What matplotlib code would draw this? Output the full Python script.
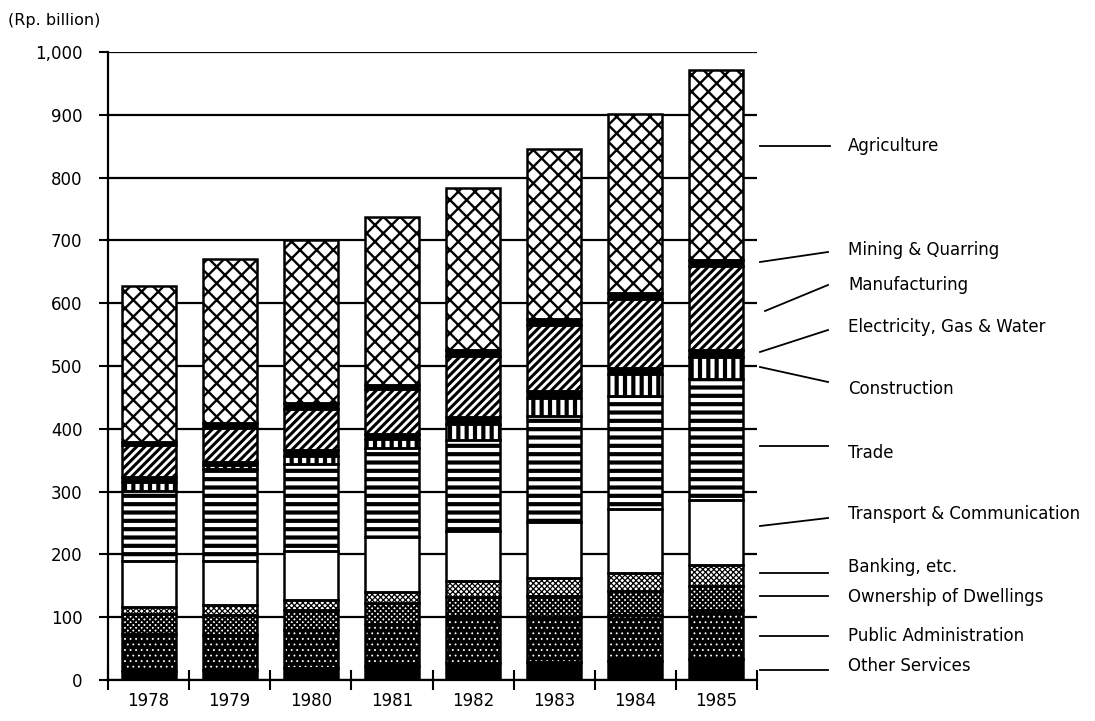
import numpy as np
import matplotlib
matplotlib.use("Agg")
import matplotlib.pyplot as plt
from matplotlib.lines import Line2D

years = ["1978", "1979", "1980", "1981", "1982", "1983", "1984", "1985"]

# sector values (Rp. billion), stacked bottom -> top
other_services = [14, 16, 19, 22, 27, 28, 30, 34]
public_admin = [59, 56, 60, 67, 75, 72, 73, 78]
ownership_dwellings = [32, 32, 32, 33, 30, 34, 39, 38]
banking = [12, 15, 16, 18, 25, 28, 29, 33]
transport_comm = [72, 70, 79, 88, 80, 89, 102, 103]
trade = [112, 147, 138, 142, 145, 170, 179, 193]
construction = [14, 6, 12, 14, 25, 28, 35, 36]
electricity = [8, 5, 11, 8, 11, 11, 10, 11]
manufacturing = [51, 55, 65, 71, 98, 106, 110, 134]
mining = [5, 8, 9, 7, 9, 9, 10, 9]
agriculture = [249, 261, 259, 267, 259, 270, 285, 303]

yticks = [0, 100, 200, 300, 400, 500, 600, 700, 800, 900, 1000]
ytick_labels = ["0", "100", "200", "300", "400", "500", "600", "700", "800", "900", "1,000"]

# (values, face colour, hatch, hatch colour, hatch linewidth)
segments = [
    (other_services, "black", None, "black", 1.0),
    (public_admin, "black", "...", "white", 0.6),
    (ownership_dwellings, "white", "xxxxxx", "black", 1.5),
    (banking, "white", "xxxxxx", "black", 0.9),
    (transport_comm, "white", None, "black", 1.0),
    (trade, "white", "--", "black", 3.0),
    (construction, "black", "||", "white", 3.0),
    (electricity, "black", None, "black", 1.0),
    (manufacturing, "white", "////", "black", 2.2),
    (mining, "black", None, "black", 1.0),
    (agriculture, "white", "xx", "black", 1.7),
]

label_names = ["Agriculture", "Mining & Quarring", "Manufacturing", "Electricity, Gas & Water",
               "Construction", "Trade", "Transport & Communication", "Banking, etc.",
               "Ownership of Dwellings", "Public Administration", "Other Services"]

W, H = 1095, 721
fig = plt.figure(figsize=(W / 100, H / 100), dpi=100)
ax = fig.add_axes([108 / W, 1 - 680 / H, (757 - 108) / W, (680 - 52) / H])

x = np.arange(len(years))
bw = 0.665
bottom = np.zeros(len(years))
for vals, face, hatch, hcol, hlw in segments:
    vals = np.array(vals, dtype=float)
    with plt.rc_context({"hatch.linewidth": hlw}):
        bars = ax.bar(x, vals, bw, bottom=bottom, color=face, edgecolor=hcol,
                      hatch=hatch, linewidth=0, zorder=2)
    for p in bars:
        if hasattr(p, "set_hatch_linewidth"):
            p.set_hatch_linewidth(hlw)
    ax.bar(x, vals, bw, bottom=bottom, fill=False, edgecolor="black",
           linewidth=1.8, zorder=3)
    bottom += vals

ax.set_xlim(-0.5, len(years) - 0.5)
ax.set_ylim(0, 1000)

ax.set_yticks(yticks)
ax.set_yticklabels(ytick_labels)
ax.yaxis.grid(True, color="black", linewidth=1.6)
ax.set_axisbelow(True)
ax.tick_params(axis="y", direction="out", length=6.5, width=1.5, pad=12,
               labelsize=12, colors="black")

ax.set_xticks(np.arange(-0.5, len(years), 1.0))
ax.set_xticklabels([])
ax.tick_params(axis="x", which="major", direction="inout", length=15, width=1.5)
ax.set_xticks(x, minor=True)
ax.set_xticklabels(years, minor=True)
ax.tick_params(axis="x", which="minor", length=0, pad=9, labelsize=12)

for s in ["top", "right"]:
    ax.spines[s].set_visible(False)
for s in ["left", "bottom"]:
    ax.spines[s].set_linewidth(1.6)

fig.text(8 / W, 1 - 20 / H, "(Rp. billion)", fontsize=11.5, va="center", ha="left")

# labels on the right with leader lines (pixel layout)
label_y = [146, 250, 285, 327, 389, 453, 514, 567, 597, 636, 666]
line_start = [(760, 146), (760, 262), (765, 311), (760, 352), (760, 367), (760, 446),
              (760, 526), (760, 573), (760, 596), (760, 636), (760, 670)]
line_end = [(830, 146), (828, 252), (828, 285), (828, 330), (828, 382), (828, 446),
            (828, 518), (828, 573), (828, 596), (828, 636), (828, 670)]
for name, ty, (x0, y0), (x1, y1) in zip(label_names, label_y, line_start, line_end):
    fig.text(848 / W, 1 - ty / H, name, fontsize=12, va="center", ha="left")
    fig.add_artist(Line2D([x0 / W, x1 / W], [1 - y0 / H, 1 - y1 / H],
                          transform=fig.transFigure, color="black", linewidth=1.3))

fig.savefig("out.png", dpi=100, facecolor="white")
